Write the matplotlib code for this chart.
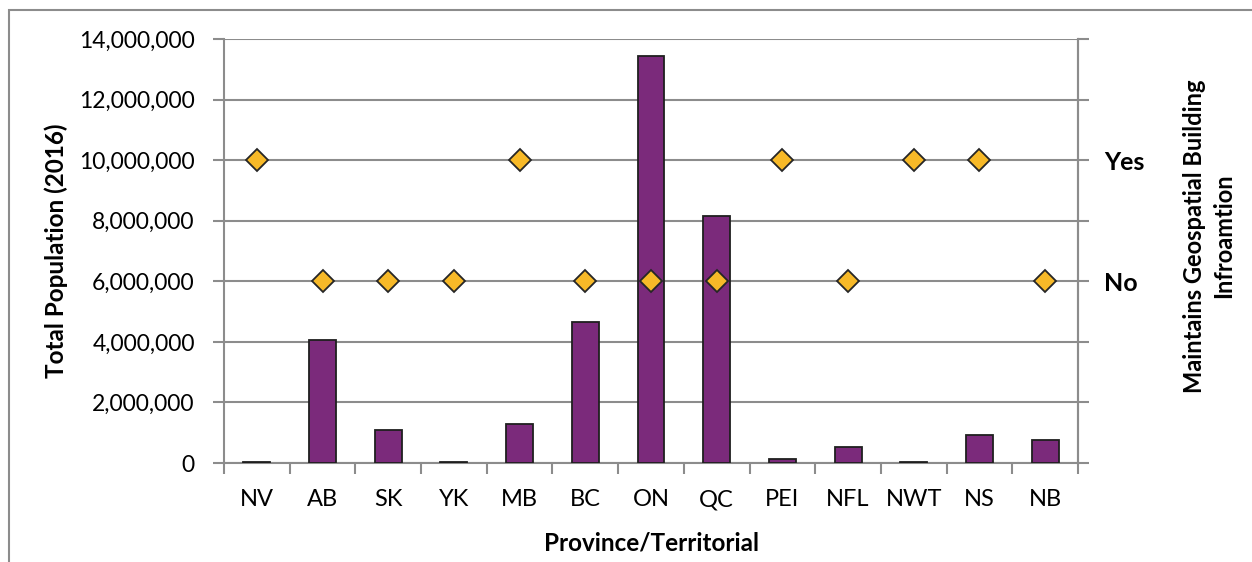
import matplotlib
matplotlib.use("Agg")
import matplotlib.pyplot as plt
from matplotlib.patches import Rectangle
from matplotlib.ticker import FuncFormatter, FixedLocator
import numpy as np

# Province / territory codes along the x axis
provinces = ["NV", "AB", "SK", "YK", "MB", "BC", "ON", "QC", "PEI", "NFL", "NWT", "NS", "NB"]
# Total population, 2016 census
population = [35944, 4067175, 1098352, 35874, 1278365, 4648055, 13448494,
              8164361, 142907, 519716, 41786, 923598, 747101]
# Whether each jurisdiction maintains geospatial building information
maintains = ["Yes", "No", "No", "No", "Yes", "No", "No", "No", "Yes", "No", "Yes", "Yes", "No"]
# Secondary-axis levels for the Yes / No categories
answer_levels = {"Yes": 10_000_000, "No": 6_000_000}

plt.rcParams["font.family"] = ["Lato", "DejaVu Sans"]

fig = plt.figure(figsize=(12.52, 5.62), dpi=100)
ax = fig.add_axes([224 / 1252, 1 - 463 / 562, (1078 - 224) / 1252, (463 - 39) / 562])

grid_c = "#8c8c8c"
x = np.arange(len(provinces))
ax.bar(x, population, width=0.41, color="#7b2a7b", edgecolor="#1f1f1f",
       linewidth=1.3, zorder=3)

ax.set_xlim(-0.5, len(provinces) - 0.5)
ax.set_ylim(0, 14_000_000)
ax.set_yticks(np.arange(0, 14_000_001, 2_000_000))
ax.yaxis.set_major_formatter(FuncFormatter(lambda v, p: f"{int(v):,}"))
ax.grid(axis="y", color=grid_c, linewidth=1.5, zorder=0)
ax.set_axisbelow(True)

# category labels centred, tick marks on category boundaries
ax.set_xticks(x)
ax.set_xticklabels(provinces)
ax.xaxis.set_minor_locator(FixedLocator(np.arange(-0.5, len(provinces), 1.0)))
ax.tick_params(axis="x", which="major", length=0, pad=19, labelsize=17)
ax.tick_params(axis="x", which="minor", length=8, width=1.5, color=grid_c)
ax.tick_params(axis="y", length=8, width=1.5, color=grid_c, labelsize=16.5, pad=13)

for side in ["top"]:
    ax.spines[side].set_visible(False)
for side in ["left", "bottom", "right"]:
    ax.spines[side].set_color(grid_c)
    ax.spines[side].set_linewidth(1.5)

ax.set_ylabel("Total Population (2016)", fontsize=17.5, fontweight="bold", labelpad=8)
ax.set_xlabel("Province/Territorial", fontsize=17.5, fontweight="bold", labelpad=15)

# secondary axis with the Yes / No markers
ax2 = ax.twinx()
ax2.set_ylim(0, 14_000_000)
ax2.set_yticks(np.arange(0, 14_000_001, 2_000_000))
labels = {v: k for k, v in answer_levels.items()}
ax2.set_yticklabels([labels.get(int(t), "") for t in np.arange(0, 14_000_001, 2_000_000)],
                    fontsize=18, fontweight="bold")
ax2.tick_params(axis="y", length=8, width=1.5, color=grid_c, pad=11)
for side in ["top", "left", "bottom"]:
    ax2.spines[side].set_visible(False)
ax2.spines["right"].set_color(grid_c)
ax2.spines["right"].set_linewidth(1.5)
ax2.plot(x, [answer_levels[m] for m in maintains], linestyle="none", marker="D",
         markersize=11, markerfacecolor="#f7b928", markeredgecolor="#262626",
         markeredgewidth=1.3, zorder=5, clip_on=False)
ax2.set_ylabel("Maintains Geospatial Building\nInfroamtion", fontsize=17,
               fontweight="bold", linespacing=1.3)
ax2.yaxis.set_label_coords((1183 - 224) / 854, (463 - 236) / 424)

# outer chart frame
fig.add_artist(Rectangle((9 / 1252, -0.1), 1.2, 1 - 10 / 562 + 0.1,
                         transform=fig.transFigure, fill=False,
                         edgecolor="#8c8c8c", linewidth=1.5))

fig.savefig("out.png", dpi=100)
